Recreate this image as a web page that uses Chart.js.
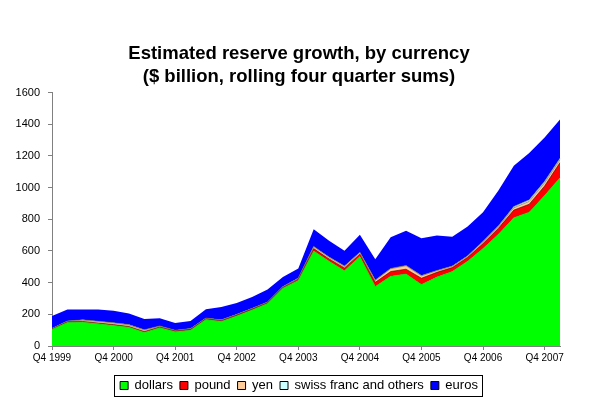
<!DOCTYPE html>
<html>
<head>
<meta charset="utf-8">
<script src="https://cdn.jsdelivr.net/npm/chart.js@4/dist/chart.umd.min.js"></script>
<style>
  html, body { margin: 0; padding: 0; background: #fff; }
  #wrap { width: 593px; height: 405px; }
</style>
</head>
<body>
<div id="wrap"><canvas id="reserveChart" width="593" height="405"></canvas></div>
<script>
// quarters Q4 1999 .. Q1 2008
const quarters = [
  "Q4 1999", "Q1 2000", "Q2 2000", "Q3 2000", "Q4 2000", "Q1 2001", "Q2 2001", "Q3 2001",
  "Q4 2001", "Q1 2002", "Q2 2002", "Q3 2002", "Q4 2002", "Q1 2003", "Q2 2003", "Q3 2003",
  "Q4 2003", "Q1 2004", "Q2 2004", "Q3 2004", "Q4 2004", "Q1 2005", "Q2 2005", "Q3 2005",
  "Q4 2005", "Q1 2006", "Q2 2006", "Q3 2006", "Q4 2006", "Q1 2007", "Q2 2007", "Q3 2007",
  "Q4 2007", "Q1 2008"
];
const dollars = [105, 148, 150, 140, 130, 118, 86, 115, 90, 100, 167, 155, 190, 228, 268, 365,
  414, 600, 535, 475, 565, 375, 440, 455, 388, 435, 470, 535, 615, 705, 810, 845, 950, 1063];
const pound = [3, 5, 5, 5, 5, 5, 5, 5, 5, 5, 5, 5, 5, 5, 5, 5,
  8, 15, 15, 18, 15, 27, 30, 30, 40, 30, 25, 25, 32, 38, 48, 50, 60, 95];
const yen = [2, 3, 8, 10, 10, 10, 10, 5, 3, 3, 3, 3, 3, 3, 3, 3,
  5, 12, 10, 10, 10, 12, 18, 22, 15, 10, 8, 8, 10, 10, 15, 18, 20, 18];
const swiss = [2, 2, 2, 2, 2, 2, 2, 2, 2, 2, 2, 2, 2, 2, 2, 2,
  2, 2, 2, 2, 2, 2, 2, 2, 2, 2, 2, 2, 5, 6, 8, 10, 10, 10];
const euros = [78, 72, 65, 73, 75, 70, 67, 49, 45, 48, 55, 82, 72, 72, 78, 60,
  61, 109, 103, 97, 110, 132, 196, 219, 236, 220, 185, 185, 183, 223, 257, 295, 276, 244];
const yTicks = [0, 200, 400, 600, 800, 1000, 1200, 1400, 1600];

const FONT = "'Liberation Sans', Arial, sans-serif";

function area(label, data, color, edge) {
  return {
    label: label,
    data: data,
    backgroundColor: color,
    borderColor: edge,
    borderWidth: edge ? 0.6 : 0,
    pointRadius: 0,
    tension: 0,
    yAxisID: "y",
    fill: label === "dollars" ? "origin" : "-1"
  };
}

// frame around the legend like the excel one
const legendFrame = {
  id: "legendFrame",
  afterDraw(chart) {
    const boxes = chart.legend.legendHitBoxes;
    if (!boxes || !boxes.length) return;
    let l = Infinity, r = -Infinity, t = Infinity;
    boxes.forEach((h) => {
      l = Math.min(l, h.left); r = Math.max(r, h.left + h.width);
      t = Math.min(t, h.top);
    });
    const c = chart.ctx;
    c.save();
    c.strokeStyle = "#000";
    c.lineWidth = 1;
    c.strokeRect(Math.round(l - 6) + 0.5, Math.round(t - 4) + 0.5, Math.round(r - l + 10), 21);
    c.restore();
  }
};

new Chart(document.getElementById("reserveChart"), {
  type: "line",
  data: {
    labels: quarters,
    datasets: [
      area("dollars", dollars, "#00ff00", "#00cc00"),
      area("pound", pound, "#ff0000", "#400000"),
      area("yen", yen, "#ffcc99", "#806040"),
      area("swiss franc and others", swiss, "#ccffff", "#406060"),
      area("euros", euros, "#0000ff", null)
    ]
  },
  options: {
    responsive: false,
    animation: false,
    layout: { padding: { left: 5, right: 0, top: 0, bottom: 3 } },
    plugins: {
      title: {
        display: true,
        text: ["Estimated reserve growth, by currency", "($ billion, rolling four quarter sums)"],
        color: "#000",
        font: { family: FONT, size: 18.5, weight: "bold", lineHeight: 1.26 },
        padding: { top: 42, bottom: 4 }
      },
      legend: {
        position: "bottom",
        labels: {
          color: "#000",
          font: { family: FONT, size: 13 },
          boxWidth: 8,
          boxHeight: 8,
          padding: 7,
          generateLabels(chart) {
            return chart.data.datasets.map((ds, i) => ({
              text: ds.label,
              fillStyle: ds.backgroundColor,
              strokeStyle: "#000",
              lineWidth: 1,
              hidden: false,
              datasetIndex: i,
              fontColor: "#000"
            }));
          }
        }
      },
      tooltip: { enabled: false }
    },
    scales: {
      x: {
        offset: false,
        grid: {
          drawOnChartArea: false,
          drawTicks: true,
          tickLength: 4,
          color: (ctx) => (ctx.index % 4 === 0 ? "#808080" : "transparent")
        },
        border: { color: "#808080" },
        ticks: {
          autoSkip: false,
          maxRotation: 0,
          color: "#000",
          font: { family: FONT, size: 10 },
          padding: 2,
          callback: (v, i) => (i % 4 === 0 ? quarters[i] : "")
        },
        afterFit(scale) { scale.height = 26; }
      },
      y: {
        stacked: true,
        min: 0,
        max: 1600,
        afterBuildTicks(scale) { scale.ticks = yTicks.map((v) => ({ value: v })); },
        grid: { drawOnChartArea: false, drawTicks: true, tickLength: 4, color: "#808080" },
        border: { color: "#808080" },
        ticks: {
          color: "#000",
          font: { family: FONT, size: 11 },
          padding: 8,
          callback: (v) => String(v)
        },
        afterFit(scale) { scale.width = 47; }
      },
      // empty spacer on the right so the plot ends where the original does
      yR: {
        position: "right",
        grid: { display: false },
        border: { display: false },
        ticks: { display: false },
        afterFit(scale) { scale.width = 33; }
      }
    }
  },
  plugins: [legendFrame]
});
</script>
</body>
</html>
